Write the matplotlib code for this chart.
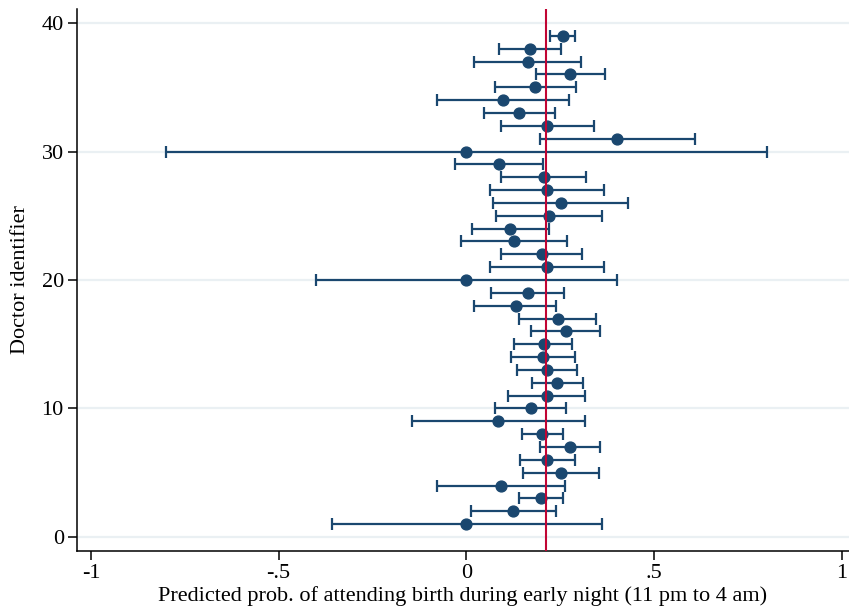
import matplotlib
matplotlib.use("Agg")
import matplotlib.pyplot as plt
import numpy as np

# doctor id, predicted probability, lower / upper 95% bounds
doctor_id = list(range(1, 40))
estimate = [
    0.000, 0.124, 0.199, 0.091, 0.251, 0.214, 0.275, 0.201, 0.084, 0.171,
    0.214, 0.242, 0.215, 0.203, 0.206, 0.265, 0.243, 0.131, 0.163, 0.000,
    0.215, 0.201, 0.126, 0.117, 0.219, 0.251, 0.215, 0.206, 0.086, 0.000,
    0.401, 0.215, 0.141, 0.097, 0.183, 0.277, 0.163, 0.169, 0.257,
]
ci_low = [
    -0.357, 0.011, 0.141, -0.078, 0.151, 0.142, 0.197, 0.147, -0.146, 0.075,
    0.112, 0.175, 0.136, 0.119, 0.128, 0.173, 0.141, 0.021, 0.066, -0.400,
    0.064, 0.093, -0.015, 0.014, 0.079, 0.072, 0.064, 0.091, -0.031, -0.800,
    0.195, 0.092, 0.047, -0.078, 0.075, 0.186, 0.019, 0.088, 0.224,
]
ci_high = [
    0.360, 0.239, 0.258, 0.262, 0.352, 0.288, 0.356, 0.256, 0.317, 0.266,
    0.317, 0.310, 0.294, 0.289, 0.282, 0.357, 0.344, 0.240, 0.261, 0.400,
    0.367, 0.309, 0.268, 0.221, 0.361, 0.430, 0.367, 0.319, 0.203, 0.800,
    0.608, 0.339, 0.237, 0.272, 0.291, 0.368, 0.306, 0.252, 0.289,
]
overall_mean = 0.212

navy = "#1a476f"
cranberry = "#c10534"

plt.rcParams["font.family"] = ["Liberation Serif", "DejaVu Serif"]

fig = plt.figure(figsize=(8.49, 6.15), dpi=100)
ax = fig.add_axes([77 / 849, 1 - 551 / 615, 772 / 849, 542 / 615])

est = np.array(estimate)
err = np.vstack([est - np.array(ci_low), np.array(ci_high) - est])

ax.errorbar(est, doctor_id, xerr=err, fmt="o", color=navy, ecolor=navy,
            markersize=7.8, elinewidth=1.6, capsize=4, capthick=1.6, zorder=3)
ax.axvline(overall_mean, color=cranberry, linewidth=1.5, zorder=4)

ax.set_xlim(-1.037, 1.019)
ax.set_ylim(-1.09, 41.09)
ax.set_xticks([-1, -0.5, 0, 0.5, 1])
ax.set_xticklabels(["-1", "-.5", "0", ".5", "1"])
ax.set_yticks([0, 10, 20, 30, 40])
ax.yaxis.grid(True, color="#eaf0f3", linewidth=1.6)
ax.set_axisbelow(True)

for side in ("top", "right"):
    ax.spines[side].set_visible(False)
for side in ("left", "bottom"):
    ax.spines[side].set_linewidth(1.1)

ax.tick_params(axis="both", direction="out", length=6.5, width=1.1,
               labelsize=16, pad=3)
ax.set_xlabel("Predicted prob. of attending birth during early night (11 pm to 4 am)",
              fontsize=16, labelpad=2)
ax.set_ylabel("Doctor identifier", fontsize=16, labelpad=8)

fig.savefig("out.png", dpi=100)
